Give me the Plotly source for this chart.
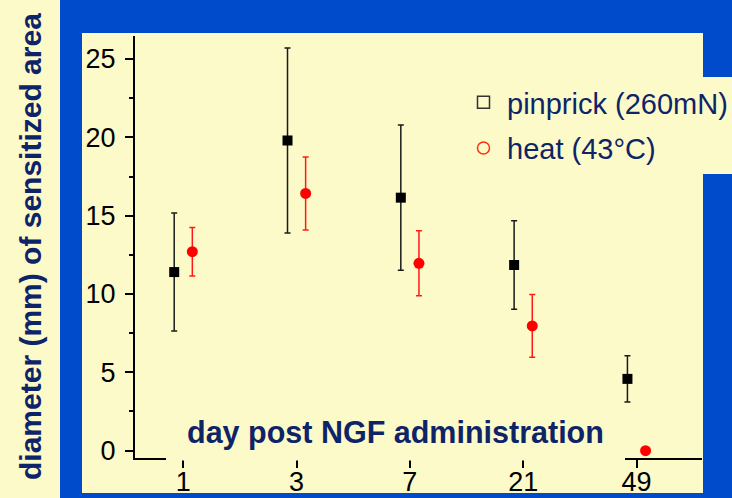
import plotly.graph_objects as go

# --- data -------------------------------------------------------------
days = ["1", "3", "7", "21", "49"]

pinprick_mean = [11.4, 19.8, 16.15, 11.85, 4.58]
pinprick_err = [3.77, 5.9, 4.64, 2.83, 1.48]

heat_mean = [12.7, 16.42, 11.96, 7.96, 0.0]
heat_err = [1.55, 2.33, 2.08, 2.0, 0.0]

y_ticks = [0, 5, 10, 15, 20, 25]

# --- styling ----------------------------------------------------------
W, H = 732, 498
L, R, T, B = 135, 30, 36, 40          # plot-area margins in px
BLUE = "#004BCB"
CREAM = "#FCFAC8"
NAVY = "#0E2468"
BOLD = "Liberation Sans, Arial, sans-serif"
SANS = "Liberation Sans, Arial, sans-serif"

PW = W - L - R
PH = H - T - B


def px_x(px):
    return (px - L) / PW


def px_y(py):
    return (H - B - py) / PH


idx = list(range(len(days)))
shift = 0.08
x_pin = [i - shift for i in idx]
x_heat = [i + shift for i in idx]

fig = go.Figure()

fig.add_trace(go.Scatter(
    x=x_pin, y=pinprick_mean, mode="markers", showlegend=False,
    marker=dict(symbol="square", size=10, color="black"),
    error_y=dict(type="data", array=pinprick_err, color="#1a1a1a",
                 thickness=1.5, width=3),
))
fig.add_trace(go.Scatter(
    x=x_heat, y=heat_mean, mode="markers", showlegend=False,
    marker=dict(symbol="circle", size=11, color="#FF0000"),
    error_y=dict(type="data", array=heat_err, color="#FF1a1a",
                 thickness=1.5, width=3),
))

# legend entries use open symbols
fig.add_trace(go.Scatter(
    x=[None], y=[None], mode="markers", name="pinprick (260mN)",
    legendgroup="a",
    marker=dict(symbol="square-open", size=12, color="#333333",
                line=dict(width=1.5)),
))
fig.add_trace(go.Scatter(
    x=[None], y=[None], mode="markers", name="heat (43°C)",
    legendgroup="b",
    marker=dict(symbol="circle-open", size=12, color="#FF3010",
                line=dict(width=1.5)),
))

shapes = [
    # cream strip behind the y-axis title
    dict(type="rect", xref="paper", yref="paper",
         x0=px_x(0), x1=px_x(60), y0=px_y(H), y1=px_y(0),
         fillcolor=CREAM, line=dict(width=0), layer="below"),
    # cream chart panel
    dict(type="rect", xref="paper", yref="paper",
         x0=px_x(82), x1=px_x(703), y0=px_y(493), y1=px_y(33),
         fillcolor=CREAM, line=dict(width=0), layer="below"),
    # cream box behind the x-axis title, masking the middle of the axis line
    dict(type="rect", xref="paper", yref="paper",
         x0=px_x(166), x1=px_x(625), y0=px_y(460.5), y1=px_y(405),
         fillcolor=CREAM, line=dict(width=0), layer="above"),
]

annotations = [
    dict(text="<b>diameter (mm) of sensitized area</b>", textangle=-90,
         xref="paper", yref="paper", x=px_x(30), y=px_y(247),
         xanchor="center", yanchor="middle", showarrow=False,
         font=dict(family=BOLD, size=30, color=NAVY)),
    dict(text="<b>day post NGF administration</b>",
         xref="paper", yref="paper", x=px_x(395.5), y=px_y(432),
         xanchor="center", yanchor="middle", showarrow=False,
         font=dict(family=BOLD, size=30.5, color=NAVY)),
]

axis_common = dict(
    showgrid=False, zeroline=False, showline=True, linecolor="black",
    linewidth=2, ticks="outside", ticklen=8, tickwidth=1.5,
    tickcolor="black", automargin=False,
    tickfont=dict(family=SANS, size=27, color="black"),
)

fig.update_layout(
    width=W, height=H,
    margin=dict(l=L, r=R, t=T, b=B, pad=0, autoexpand=False),
    paper_bgcolor=BLUE, plot_bgcolor=CREAM,
    shapes=shapes, annotations=annotations,
    xaxis=dict(range=[-0.426, 4.578], tickmode="array", tickvals=idx,
               ticktext=days, ticklabelstandoff=-9, **axis_common),
    yaxis=dict(range=[-0.47, 26.47], tickmode="array", tickvals=y_ticks,
               ticklabelstandoff=4,
               minor=dict(dtick=2.5, tick0=0, ticks="outside", ticklen=4,
                          tickwidth=1.5, tickcolor="black"),
               **axis_common),
    legend=dict(x=px_x(460), y=px_y(77), xanchor="left", yanchor="top",
                bgcolor=CREAM, borderwidth=0, tracegroupgap=5,
                traceorder="grouped", itemwidth=37,
                font=dict(family=SANS, size=29, color=NAVY)),
    showlegend=True,
)

fig.write_html("out.html")
